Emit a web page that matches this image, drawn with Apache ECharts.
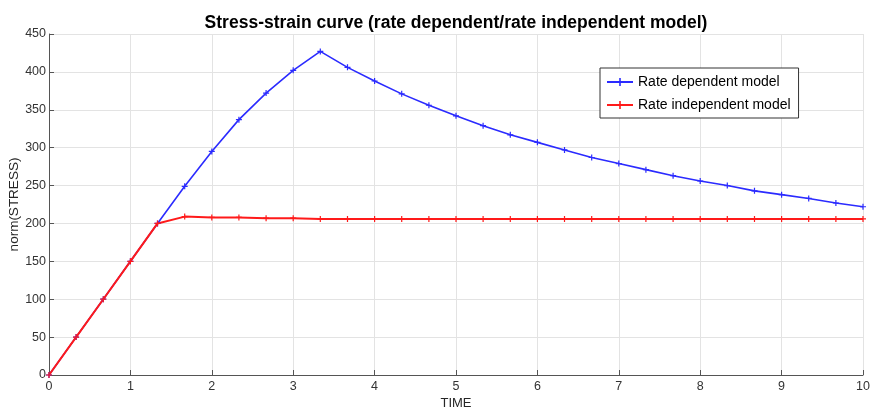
<!DOCTYPE html>
<html><head><meta charset="utf-8">
<script src="https://cdn.jsdelivr.net/npm/echarts@6/dist/echarts.min.js"></script>
<style>html,body{margin:0;padding:0;background:#fff}#c{width:871px;height:411px}</style>
</head><body><div id="c"></div>
<script>
var times = [0, 0.333, 0.667, 1, 1.333, 1.667, 2, 2.333, 2.667, 3, 3.333, 3.667, 4, 4.333, 4.667, 5, 5.333, 5.667, 6, 6.333, 6.667, 7, 7.333, 7.667, 8, 8.333, 8.667, 9, 9.333, 9.667, 10];
var rateDependent = [0, 50, 100, 150, 200, 249, 295, 337, 372, 402, 427, 406, 388, 371, 356, 342, 329, 317, 307, 297, 287, 279, 271, 263, 256, 250, 243, 238, 233, 227, 222];
var rateIndependent = [0, 50, 100, 150, 200, 209, 208, 208, 207, 207, 206, 206, 206, 206, 206, 206, 206, 206, 206, 206, 206, 206, 206, 206, 206, 206, 206, 206, 206, 206, 206];
var seriesNames = ['Rate dependent model', 'Rate independent model'];

function pairs(ys){ return times.map(function(t,i){ return [t, ys[i]]; }); }
var plus = 'path://M4,0 L6,0 L6,4 L10,4 L10,6 L6,6 L6,10 L4,10 L4,6 L0,6 L0,4 L4,4 Z';
var font = 'Liberation Sans, Arial, sans-serif';
var chart = echarts.init(document.getElementById('c'));
chart.setOption({
  animation: false,
  backgroundColor: '#fff',
  title: {
    text: 'Stress-strain curve (rate dependent/rate independent model)',
    left: 451, top: 9, textAlign: 'center',
    textStyle: { fontFamily: font, fontSize: 17.5, fontWeight: 'bold', color: '#000' }
  },
  legend: {
    left: 600, top: 68, orient: 'vertical',
    backgroundColor: '#fff', borderColor: '#333', borderWidth: 1, borderRadius: 0,
    padding: [7, 8, 6, 6], itemGap: 9, itemWidth: 26, itemHeight: 10,
    textStyle: { fontFamily: font, fontSize: 14, color: '#000' },
    data: seriesNames
  },
  grid: { left: 49, right: 8, top: 34, bottom: 36, containLabel: false, outerBoundsMode: 'none' },
  xAxis: {
    type: 'value', min: 0, max: 10, interval: 1,
    name: 'TIME', nameLocation: 'middle', nameGap: 22, nameMoveOverlap: false,
    nameTextStyle: { fontFamily: font, fontSize: 13, color: '#262626' },
    axisLine: { show: true, lineStyle: { color: '#555', width: 1 } },
    axisTick: { show: true, inside: true, length: 5, lineStyle: { color: '#555' } },
    axisLabel: { fontFamily: font, fontSize: 12.5, color: '#333', margin: 5 },
    splitLine: { show: true, lineStyle: { color: '#e3e3e3', width: 1 } }
  },
  yAxis: {
    type: 'value', min: 0, max: 450, interval: 50,
    name: 'norm(STRESS)', nameLocation: 'middle', nameGap: 28, nameMoveOverlap: false,
    nameTextStyle: { fontFamily: font, fontSize: 13.5, color: '#262626' },
    axisLine: { show: true, lineStyle: { color: '#555', width: 1 } },
    axisTick: { show: true, inside: true, length: 5, lineStyle: { color: '#555' } },
    axisLabel: { fontFamily: font, fontSize: 12.5, color: '#333', margin: 3 },
    splitLine: { show: true, lineStyle: { color: '#e3e3e3', width: 1 } }
  },
  series: [
    { name: seriesNames[0], type: 'line', data: pairs(rateDependent),
      symbol: plus, symbolSize: 6, showSymbol: true,
      lineStyle: { color: '#2b2bff', width: 1.6 }, itemStyle: { color: '#2b2bff' } },
    { name: seriesNames[1], type: 'line', data: pairs(rateIndependent),
      symbol: plus, symbolSize: 6, showSymbol: true,
      lineStyle: { color: '#ff1a1a', width: 2 }, itemStyle: { color: '#ff1a1a' } }
  ]
});
</script></body></html>
